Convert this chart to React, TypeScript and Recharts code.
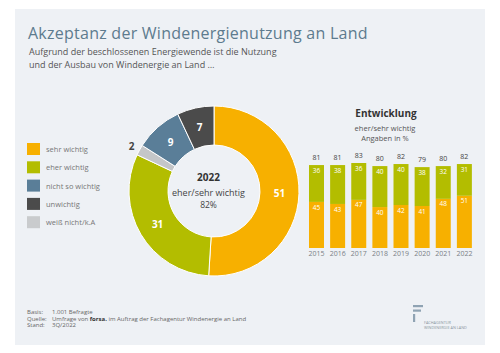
import React from 'react';
import { PieChart, Pie, Cell, BarChart, Bar, XAxis, YAxis, LabelList } from 'recharts';

// ---- Data ----
const pieCategories = ['sehr wichtig', 'eher wichtig', 'weiß nicht/k.A.', 'nicht so wichtig', 'unwichtig'];
const pieValues = [51, 31, 2, 9, 7];
const pieColors = ['#f7b000', '#b3bd00', '#c4c6c8', '#5a7e98', '#4b4b4b'];

const legendLabels = ['sehr wichtig', 'eher wichtig', 'nicht so wichtig', 'unwichtig', 'weiß nicht/k.A'];
const legendColors = ['#f7b000', '#b3bd00', '#5a7e98', '#4b4b4b', '#c9cbcd'];

const years = ['2015', '2016', '2017', '2018', '2019', '2020', '2021', '2022'];
const sehrWichtig = [45, 43, 47, 40, 42, 41, 48, 51];
const eherWichtig = [36, 38, 36, 40, 40, 38, 32, 31];
const totals = [81, 81, 83, 80, 82, 79, 80, 82];

const pieData = pieCategories.map((name, i) => ({ name, value: pieValues[i] }));
const barData = years.map((year, i) => ({
  year,
  sehr: sehrWichtig[i],
  eher: eherWichtig[i],
  total: totals[i],
}));

const FONT = '"Open Sans", "Noto Sans", sans-serif';
const RADIAN = Math.PI / 180;

const renderPieLabel = (props: any) => {
  const { cx, cy, midAngle, innerRadius, outerRadius, index, value } = props;
  const outside = index === 2;
  const r = outside ? outerRadius + 9 : (innerRadius + outerRadius) / 2;
  const x = cx + r * Math.cos(-midAngle * RADIAN);
  const y = cy + r * Math.sin(-midAngle * RADIAN);
  return (
    <text
      x={x}
      y={y}
      fill={outside ? '#444' : '#fff'}
      textAnchor="middle"
      dominantBaseline="central"
      fontSize={10}
      fontWeight={700}
      fontFamily={FONT}
    >
      {value}
    </text>
  );
};

export default function App() {
  return (
    <div style={{ position: 'absolute', left: 0, top: 0, width: 500, height: 353, background: '#fff', overflow: 'hidden', fontFamily: FONT }}>
      <div style={{ position: 'absolute', left: 15, top: 9, width: 470, height: 336, background: '#eef1f5' }} />

      <div style={{ position: 'absolute', left: 108.5, top: 86 }}>
        <PieChart width={200} height={200}>
          <Pie
            data={pieData}
            dataKey="value"
            cx={100}
            cy={100}
            innerRadius={46}
            outerRadius={85}
            startAngle={90}
            endAngle={-270}
            stroke="#ffffff"
            strokeWidth={1}
            label={renderPieLabel}
            labelLine={false}
            isAnimationActive={false}
          >
            {pieData.map((d, i) => (
              <Cell key={d.name} fill={pieColors[i]} />
            ))}
          </Pie>
        </PieChart>
      </div>

      <div style={{ position: 'absolute', left: 300, top: 140 }}>
        <BarChart width={180} height={130} data={barData} margin={{ top: 5.6, right: 5, left: 6, bottom: 4 }} barSize={15}>
          <XAxis
            dataKey="year"
            axisLine={false}
            tickLine={false}
            tickSize={0}
            tickMargin={3}
            height={18}
            interval={0}
            tick={{ fontSize: 7, fill: '#7a7f86', fontFamily: FONT }}
          />
          <YAxis hide domain={[0, 100]} />
          <Bar dataKey="sehr" stackId="a" fill="#f7b000" isAnimationActive={false}>
            <LabelList dataKey="sehr" position="insideTop" offset={3} fill="#fff" fontSize={6.5} fontFamily={FONT} />
          </Bar>
          <Bar dataKey="eher" stackId="a" fill="#b3bd00" stroke="none" isAnimationActive={false}>
            <LabelList dataKey="eher" position="insideTop" offset={3} fill="#fff" fontSize={6.5} fontFamily={FONT} />
            <LabelList dataKey="total" position="top" offset={5} fill="#444" fontSize={7} fontFamily={FONT} />
          </Bar>
        </BarChart>
      </div>

      <svg width={500} height={353} style={{ position: 'absolute', left: 0, top: 0, pointerEvents: 'none' }} fontFamily={FONT}>
        <text x={28} y={39} fontSize={16} letterSpacing={0.25} fill="#5d7b8e">Akzeptanz der Windenergienutzung an Land</text>
        <text x={29} y={55} fontSize={9} fill="#555">Aufgrund der beschlossenen Energiewende ist die Nutzung</text>
        <text x={29} y={68} fontSize={9} fill="#555">und der Ausbau von Windenergie an Land …</text>

        {legendLabels.map((l, i) => (
          <g key={l}>
            <rect x={27} y={143 + i * 18.3} width={13} height={12} fill={legendColors[i]} />
            <text x={46} y={149 + i * 18.3} dominantBaseline="central" fontSize={7.5} fill="#777">{l}</text>
          </g>
        ))}

        <text x={208.5} y={177} textAnchor="middle" dominantBaseline="central" fontSize={10} fontWeight={700} fill="#333">2022</text>
        <text x={208.5} y={192} textAnchor="middle" dominantBaseline="central" fontSize={9} fill="#444">eher/sehr wichtig</text>
        <text x={208.5} y={204} textAnchor="middle" dominantBaseline="central" fontSize={8.5} fill="#444">82%</text>

        <text x={386} y={113} textAnchor="middle" dominantBaseline="central" fontSize={10} fontWeight={700} fill="#333">Entwicklung</text>
        <text x={385} y={128} textAnchor="middle" dominantBaseline="central" fontSize={7.5} fill="#555">eher/sehr wichtig</text>
        <text x={385} y={138} textAnchor="middle" dominantBaseline="central" fontSize={7.5} fill="#555">Angaben in %</text>

        <g fontSize={6} fill="#666">
          <text x={27} y={314}>Basis:</text>
          <text x={52} y={314}>1.001 Befragte</text>
          <text x={27} y={320.5}>Quelle:</text>
          <text x={52} y={320.5}>Umfrage von <tspan fontWeight={700} fill="#333">forsa.</tspan> im Auftrag der Fachagentur Windenergie an Land</text>
          <text x={27} y={327}>Stand:</text>
          <text x={52} y={327}>3Q/2022</text>
        </g>

        <g fill="#8fa3b3">
          <rect x={413} y={305} width={10} height={2.2} />
          <rect x={413} y={309.5} width={8} height={2.2} />
          <rect x={413} y={314} width={2.2} height={8} />
        </g>
        <text x={424} y={324} fontSize={3.8} fill="#8a96a0">FACHAGENTUR</text>
        <text x={424} y={328.5} fontSize={3.8} fill="#8a96a0">WINDENERGIE AN LAND</text>
      </svg>
    </div>
  );
}
